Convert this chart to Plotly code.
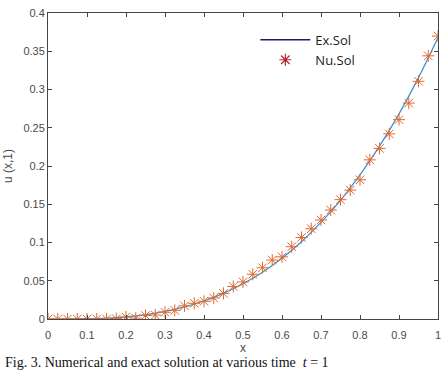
import plotly.graph_objects as go

# Exact solution
x_exact = [0, 0.05, 0.1, 0.15, 0.2, 0.25, 0.3, 0.35, 0.4, 0.45, 0.5,
           0.55, 0.6, 0.65, 0.7, 0.75, 0.8, 0.85, 0.9, 0.95, 1.0]
u_exact = [0, 0.00005, 0.0004, 0.0012, 0.0029, 0.0057, 0.0099, 0.0158, 0.0235, 0.0335, 0.046,
           0.0612, 0.0795, 0.101, 0.1262, 0.1552, 0.1884, 0.226, 0.2682, 0.3155, 0.3679]

# Numerical solution (stars)
x_num = [0, 0.025, 0.05, 0.075, 0.1, 0.125, 0.15, 0.175, 0.2, 0.225, 0.25, 0.275, 0.3, 0.325,
         0.35, 0.375, 0.4, 0.425, 0.45, 0.475, 0.5, 0.525, 0.55, 0.575, 0.6, 0.625, 0.65,
         0.675, 0.7, 0.725, 0.75, 0.775, 0.8, 0.825, 0.85, 0.875, 0.9, 0.925, 0.95, 0.975, 1.0]
u_num = [0, 0, 0, 0, 0, 0, 0, 0.0005, 0.0025, 0.0012, 0.0045, 0.0052, 0.0088, 0.0113,
         0.0172, 0.0205, 0.0232, 0.0275, 0.0335, 0.0425, 0.0485, 0.0585, 0.0670, 0.0770, 0.0812,
         0.0945, 0.1066, 0.1180, 0.1294, 0.1424, 0.1560, 0.1685, 0.1820, 0.2080, 0.2230, 0.2420,
         0.2606, 0.2822, 0.3107, 0.3440, 0.3698]

x_ticks = [0, 0.1, 0.2, 0.3, 0.4, 0.5, 0.6, 0.7, 0.8, 0.9, 1]
x_tick_labels = ["0", "0.1", "0.2", "0.3", "0.4", "0.5", "0.6", "0.7", "0.8", "0.9", "1"]
y_ticks = [0, 0.05, 0.1, 0.15, 0.2, 0.25, 0.3, 0.35, 0.4]
y_tick_labels = ["0", "0.05", "0.1", "0.15", "0.2", "0.25", "0.3", "0.35", "0.4"]

fig = go.Figure()
fig.add_trace(go.Scatter(x=x_exact, y=u_exact, mode="lines", line=dict(color="#3a8fd0", width=1.2, shape="spline"),
                         showlegend=False, hoverinfo="skip"))
fig.add_trace(go.Scatter(x=x_num, y=u_num, mode="markers",
                         marker=dict(symbol="asterisk-open", size=10, color="#e0692e", line=dict(color="#e0692e", width=1.0)),
                         showlegend=False))
# legend entries (styled as in the reference legend)
fig.add_trace(go.Scatter(x=[None], y=[None], mode="lines", name="Ex.Sol", line=dict(color="#1c1c6a", width=1.5)))
fig.add_trace(go.Scatter(x=[None], y=[None], mode="markers", name="Nu.Sol",
                         marker=dict(symbol="asterisk-open", size=10, color="#b8262e", line=dict(color="#b8262e", width=1.2))))

axis_common = dict(showline=True, linecolor="#454545", linewidth=1, mirror="ticks", ticks="inside", ticklen=4,
                   tickcolor="#454545", showgrid=False, zeroline=False,
                   tickfont=dict(family="Liberation Sans, Arial", size=11, color="#4a4a4a"))

fig.update_layout(
    width=448, height=370,
    margin=dict(l=46, r=7, t=10, b=51),
    plot_bgcolor="white", paper_bgcolor="white",
    xaxis=dict(range=[0, 1], tickvals=x_ticks, ticktext=x_tick_labels, ticklabelstandoff=6,
               title=dict(text="x", standoff=2, font=dict(family="Liberation Sans, Arial", size=12, color="#4a4a4a")),
               **axis_common),
    yaxis=dict(range=[0, 0.4], tickvals=y_ticks, ticktext=y_tick_labels,
               title=dict(text="u (x,1)", standoff=8, font=dict(family="Liberation Sans, Arial", size=12, color="#4a4a4a")),
               **axis_common),
    legend=dict(x=(256 - 46) / 395, y=(319 - 22) / 309, xanchor="left", yanchor="top",
                bgcolor="rgba(0,0,0,0)", borderwidth=0, itemwidth=50,
                font=dict(family="Open Sans, Liberation Sans", size=13, color="#222222"),
                tracegroupgap=0),
    annotations=[dict(text="Fig. 3. Numerical and exact solution at various time  <i>t</i> = 1",
                      xref="paper", yref="paper", x=(0 - 46) / 395, y=(319 - 353) / 309,
                      xanchor="left", yanchor="top", showarrow=False,
                      font=dict(family="Liberation Serif, Times New Roman", size=14, color="#111111"))],
)

fig.write_html("out.html")
